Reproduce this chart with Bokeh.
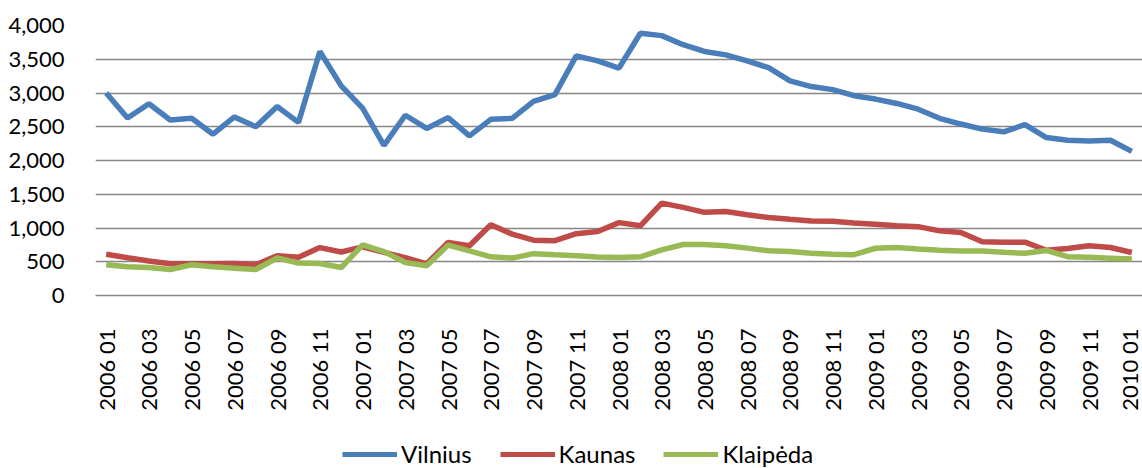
from math import pi
from bokeh.plotting import figure
from bokeh.layouts import column
from bokeh.models import (Range1d, FixedTicker, NumeralTickFormatter, Legend, LegendItem)
from bokeh.embed import file_html
from bokeh.resources import INLINE

months = [
    "2006 01", "2006 02", "2006 03", "2006 04", "2006 05", "2006 06", "2006 07", "2006 08",
    "2006 09", "2006 10", "2006 11", "2006 12",
    "2007 01", "2007 02", "2007 03", "2007 04", "2007 05", "2007 06", "2007 07", "2007 08",
    "2007 09", "2007 10", "2007 11", "2007 12",
    "2008 01", "2008 02", "2008 03", "2008 04", "2008 05", "2008 06", "2008 07", "2008 08",
    "2008 09", "2008 10", "2008 11", "2008 12",
    "2009 01", "2009 02", "2009 03", "2009 04", "2009 05", "2009 06", "2009 07", "2009 08",
    "2009 09", "2009 10", "2009 11", "2009 12",
    "2010 01",
]

vilnius = [3000, 2630, 2840, 2600, 2625, 2390, 2645, 2500, 2800, 2565, 3615, 3105,
           2775, 2225, 2670, 2475, 2635, 2365, 2610, 2625, 2875, 2975, 3550, 3475,
           3370, 3885, 3850, 3715, 3615, 3565, 3475, 3375, 3180, 3095, 3050, 2960,
           2910, 2845, 2760, 2625, 2540, 2465, 2425, 2530, 2340, 2300, 2290, 2300,
           2135]

kaunas = [612, 560, 510, 470, 470, 470, 475, 455, 590, 565, 710, 645,
          720, 640, 560, 470, 786, 736, 1047, 909, 820, 812, 915, 948,
          1080, 1032, 1368, 1305, 1232, 1245, 1195, 1156, 1130, 1105, 1100, 1075,
          1055, 1035, 1020, 958, 933, 795, 790, 790, 670, 696, 736, 711,
          637]

klaipeda = [455, 425, 415, 385, 455, 425, 405, 385, 555, 480, 475, 415,
            750, 650, 489, 440, 746, 662, 573, 554, 620, 603, 588, 570,
            563, 573, 677, 755, 755, 736, 702, 662, 652, 627, 612, 605,
            700, 711, 690, 672, 660, 660, 640, 625, 667, 575, 565, 553,
            540]

series_names = ["Vilnius", "Kaunas", "Klaipėda"]
series_colors = ["#4A7EBB", "#BE4B48", "#98B954"]
series_values = [vilnius, kaunas, klaipeda]

x = list(range(len(months)))

FONT = "Lato"
FS = "22px"

p = figure(width=1142, height=420, output_backend="svg", toolbar_location=None,
           x_range=Range1d(-0.5, 48.5), y_range=Range1d(0, 4000),
           min_border_left=95, min_border_right=0, min_border_top=25, min_border_bottom=125)
p.outline_line_color = None

for vals, col in zip(series_values, series_colors):
    p.line(x, vals, line_color=col, line_width=5.5)

# axes
p.xaxis.ticker = FixedTicker(ticks=list(range(0, len(months), 2)))
p.xaxis.major_label_overrides = {i: months[i] for i in range(0, len(months), 2)}
p.xaxis.major_label_orientation = pi / 2
p.xaxis.major_tick_line_color = None
p.xaxis.minor_tick_line_color = None
p.xaxis.axis_line_color = "#868686"
p.xaxis.axis_line_width = 1.5
p.xaxis.major_label_standoff = 27
p.xaxis.major_label_text_font = FONT
p.xaxis.major_label_text_font_size = FS
p.xaxis.major_label_text_color = "black"

p.yaxis.ticker = FixedTicker(ticks=[0, 500, 1000, 1500, 2000, 2500, 3000, 3500, 4000])
p.yaxis.formatter = NumeralTickFormatter(format="0,0")
p.yaxis.major_tick_line_color = None
p.yaxis.minor_tick_line_color = None
p.yaxis.axis_line_color = None
p.yaxis.major_label_standoff = 25
p.yaxis.major_label_text_font = FONT
p.yaxis.major_label_text_font_size = FS
p.yaxis.major_label_text_color = "black"

p.xgrid.grid_line_color = None
p.ygrid.grid_line_color = "#868686"
p.ygrid.grid_line_width = 1.5

# legend strip below the chart (series drawn outside its view, only legend shows)
lg = figure(width=1142, height=48, output_backend="svg", toolbar_location=None,
            x_range=Range1d(0, 1), y_range=Range1d(-2, -1),
            x_axis_type=None, y_axis_type=None,
            min_border_left=0, min_border_right=0, min_border_top=0, min_border_bottom=0)
lg.outline_line_color = None
lg.xgrid.visible = False
lg.ygrid.visible = False
items = []
for name, vals, col in zip(series_names, series_values, series_colors):
    r = lg.line(x, vals, line_color=col, line_width=5)
    items.append(LegendItem(label=name, renderers=[r]))

legend = Legend(items=items, orientation="horizontal", location=(247, 0),
                glyph_width=55, glyph_height=20, label_standoff=4, spacing=28,
                padding=0, margin=0, border_line_color=None, background_fill_alpha=0,
                label_text_font=FONT, label_text_font_size="24px", label_text_color="black")
lg.add_layout(legend, "center")

layout = column(p, lg, spacing=0)
open("out.html", "w").write(file_html(layout, INLINE))
